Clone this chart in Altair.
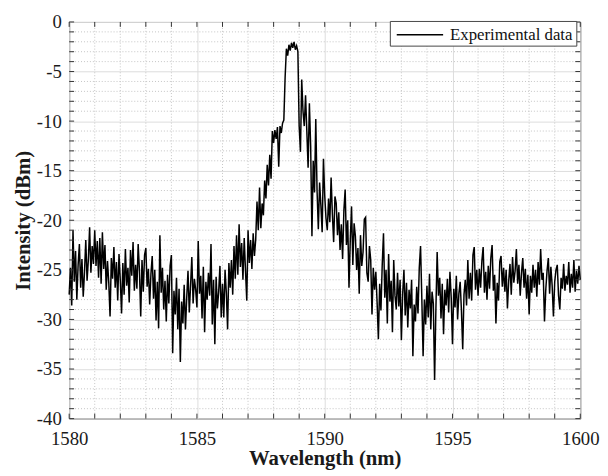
import altair as alt
import pandas as pd

c1580 = [-27.5, -24.8, -28.6, -21.0, -26.2, -23.1, -28.0, -24.5, -22.4, -26.8, -23.9, -27.7, -25.2, -22.0, -26.1, -24.0, -20.7, -25.3, -22.6, -24.4]
c1581 = [-21.0, -24.6, -22.1, -25.8, -21.8, -26.4, -21.2, -24.9, -22.5, -27.0, -24.1, -26.3, -29.7, -23.8, -25.9, -22.7, -26.8, -24.2, -28.1, -23.4]
c1582 = [-26.0, -29.4, -24.3, -27.5, -22.9, -26.6, -24.8, -28.3, -23.0, -25.6, -22.2, -27.1, -24.5, -26.9, -22.4, -25.1, -29.7, -24.0, -27.2, -23.5]
c1583 = [-22.8, -26.7, -24.9, -28.5, -25.4, -23.6, -27.9, -25.0, -30.1, -26.2, -30.9, -21.5, -27.3, -24.8, -29.0, -26.1, -30.2, -25.5, -28.4, -24.6]
c1584 = [-23.5, -33.4, -27.1, -29.5, -25.8, -31.0, -26.9, -34.3, -28.2, -30.4, -26.5, -31.0, -27.8, -25.1, -29.3, -26.6, -23.7, -28.4, -25.9, -27.0]
c1585 = [-28.8, -22.1, -27.4, -25.6, -29.9, -24.7, -31.3, -26.2, -28.0, -25.3, -27.6, -22.4, -30.5, -26.0, -32.5, -25.7, -28.9, -27.2, -24.6, -29.8]
c1586 = [-26.4, -29.8, -25.0, -27.3, -31.0, -24.3, -26.8, -24.0, -27.5, -22.6, -25.9, -21.5, -25.5, -20.4, -24.7, -22.3, -26.0, -21.8, -25.1, -28.1]
c1587 = [-21.0, -24.3, -22.0, -24.9, -21.3, -23.6, -21.9, -18.1, -21.0, -16.7, -20.8, -18.3, -19.5, -16.0, -17.8, -14.4, -16.5, -13.4, -15.8, -11.0]
c1588 = [-12.2, -10.9, -11.8, -10.6, -14.6, -10.5, -11.2, -10.2, -9.9, -5.6, -2.7, -3.4, -2.3, -2.9, -2.1, -2.6, -2.0, -2.8, -2.4, -3.0]
c1589 = [-10.5, -13.1, -5.8, -9.0, -10.5, -7.4, -11.0, -14.7, -8.2, -12.5, -21.6, -14.0, -17.2, -9.8, -17.0, -20.9, -16.2, -18.5, -21.2, -13.8]
c1590 = [-17.5, -19.8, -21.0, -17.8, -20.2, -15.7, -19.4, -22.2, -17.6, -18.3, -21.5, -19.2, -23.0, -20.4, -23.9, -19.0, -16.9, -22.5, -20.0, -26.8]
c1591 = [-22.0, -18.6, -24.5, -20.3, -21.6, -25.0, -22.8, -27.4, -21.5, -24.6, -23.2, -19.9, -19.7, -25.3, -26.2, -22.6, -24.0, -29.5, -24.8, -27.0]
c1592 = [-25.2, -28.3, -32.0, -26.4, -29.1, -24.5, -21.3, -27.8, -25.0, -30.4, -23.4, -28.2, -26.1, -31.3, -24.0, -27.6, -29.0, -25.3, -28.7, -26.0]
c1593 = [-32.1, -27.4, -25.0, -29.6, -26.3, -30.8, -27.0, -28.9, -26.0, -33.7, -28.5, -30.2, -26.7, -29.4, -24.8, -22.6, -27.9, -33.7, -28.0, -30.5]
c1594 = [-26.6, -29.8, -25.4, -31.0, -27.2, -28.4, -36.1, -29.0, -23.2, -27.6, -25.8, -29.9, -26.4, -31.5, -27.0, -28.6, -25.9, -29.3, -25.2, -27.8]
c1595 = [-32.5, -26.9, -28.8, -25.6, -30.0, -27.4, -26.2, -29.1, -33.0, -27.5, -26.0, -28.6, -24.0, -27.9, -25.3, -28.1, -23.5, -22.7, -27.0, -25.0]
c1596 = [-27.6, -24.9, -26.8, -24.1, -22.7, -27.3, -25.2, -28.0, -24.6, -26.9, -23.8, -22.5, -27.1, -25.5, -30.4, -26.3, -28.1, -24.2, -23.6, -26.7]
c1597 = [-24.8, -27.2, -25.0, -28.9, -26.1, -24.4, -27.5, -23.7, -26.3, -25.1, -22.9, -26.4, -24.5, -27.6, -25.3, -23.8, -26.8, -24.9, -27.9, -25.5]
c1598 = [-29.5, -25.6, -27.3, -24.5, -26.8, -25.0, -27.7, -24.2, -26.5, -22.9, -26.0, -25.3, -30.2, -27.0, -25.1, -23.8, -27.4, -24.7, -26.6, -29.7]
c1599 = [-26.2, -25.0, -24.5, -27.6, -29.0, -25.8, -26.9, -24.4, -27.1, -25.6, -26.5, -24.2, -27.3, -25.4, -26.8, -24.0, -27.2, -25.1, -26.4, -24.6]
c1600 = [-26.0]

intensity = (c1580 + c1581 + c1582 + c1583 + c1584 + c1585 + c1586 + c1587 + c1588 + c1589
             + c1590 + c1591 + c1592 + c1593 + c1594 + c1595 + c1596 + c1597 + c1598 + c1599 + c1600)
wavelength = [round(1580 + 0.05 * i, 2) for i in range(len(intensity))]
series_name = "Experimental data"

x_major = [1580, 1585, 1590, 1595, 1600]
x_minor = [1581, 1582, 1583, 1584, 1586, 1587, 1588, 1589, 1591, 1592, 1593, 1594, 1596, 1597, 1598, 1599]
y_major = [-40, -35, -30, -25, -20, -15, -10, -5, 0]
y_minor = [v for v in range(-39, 0) if v % 5 != 0]
x_ticks = list(range(1580, 1601))
y_ticks = list(range(-40, 1))

df = pd.DataFrame({"wl": wavelength, "dbm": intensity, "series": series_name})

W, H = 518, 402
FONT = "Liberation Serif"
TXT = "#1a1a1a"
xs = alt.Scale(domain=[1580, 1600], nice=False, zero=False)
ys = alt.Scale(domain=[-40, 0], nice=False, zero=False)

axx = alt.Axis(values=x_major, grid=True, gridColor="#dcdcdc", gridWidth=1,
               domain=False, ticks=False, labelFont=FONT, labelFontSize=19, labelPadding=11,
               labelFlush=False, labelColor=TXT, labelExpr="datum.value + ''",
               title="Wavelength (nm)", titleFont=FONT, titleFontSize=21, titleFontWeight="bold",
               titleColor=TXT, titlePadding=0)
axy = alt.Axis(values=y_major, grid=True, gridColor="#dcdcdc", gridWidth=1,
               domain=False, ticks=False, labelFont=FONT, labelFontSize=19, labelPadding=8,
               labelFlush=False, labelColor=TXT, labelExpr="datum.value + ''",
               title="Intensity (dBm)", titleFont=FONT, titleFontSize=21, titleFontWeight="bold",
               titleColor=TXT, titlePadding=3)

xminor_df = pd.DataFrame({"v": x_minor})
yminor_df = pd.DataFrame({"v": y_minor})
xt_df = pd.DataFrame({"v": x_ticks})
yt_df = pd.DataFrame({"v": y_ticks})

grid_minor_style = dict(color="#c4c4c4", strokeDash=[1, 2], strokeWidth=1)

xgrid = alt.Chart(xminor_df).mark_rule(**grid_minor_style).encode(
    x=alt.X("v:Q", scale=xs, axis=axx), y=alt.value(0), y2=alt.value(H))
ygrid = alt.Chart(yminor_df).mark_rule(**grid_minor_style).encode(
    y=alt.Y("v:Q", scale=ys, axis=axy), x=alt.value(0), x2=alt.value(W))

line = alt.Chart(df).mark_line(strokeWidth=1.5).encode(
    x=alt.X("wl:Q", scale=xs, axis=axx),
    y=alt.Y("dbm:Q", scale=ys, axis=axy),
    color=alt.Color("series:N", scale=alt.Scale(range=["#000000"]),
                    legend=alt.Legend(title=None, orient="none", legendX=325, legendY=-1,
                                      symbolType="M-0.7,0H4.0", symbolSize=400,
                                      symbolStrokeWidth=1.5, labelFont=FONT,
                                      labelFontSize=17, labelColor="#111",
                                      labelOffset=36, fillColor="white",
                                      strokeColor="#444", padding=3)),
)

tick_style = dict(color="#333", strokeWidth=1)
tb = alt.Chart(xt_df).mark_rule(**tick_style).encode(
    x=alt.X("v:Q", scale=xs, axis=axx), y=alt.value(H), y2=alt.value(H - 5))
tt = alt.Chart(xt_df).mark_rule(**tick_style).encode(
    x=alt.X("v:Q", scale=xs, axis=axx), y=alt.value(0), y2=alt.value(5))
tl = alt.Chart(yt_df).mark_rule(**tick_style).encode(
    y=alt.Y("v:Q", scale=ys, axis=axy), x=alt.value(0), x2=alt.value(5))
tr = alt.Chart(yt_df).mark_rule(**tick_style).encode(
    y=alt.Y("v:Q", scale=ys, axis=axy), x=alt.value(W), x2=alt.value(W - 5))

chart = alt.layer(xgrid, ygrid, line, tb, tt, tl, tr).properties(
    width=W, height=H,
    autosize=alt.AutoSizeParams(type="none"),
    padding={"left": 62, "top": 11, "right": 20, "bottom": 53},
).configure(font=FONT).configure_view(stroke="#333", strokeWidth=1)

chart.save("out.html", embed_options={"renderer": "svg", "actions": False})
